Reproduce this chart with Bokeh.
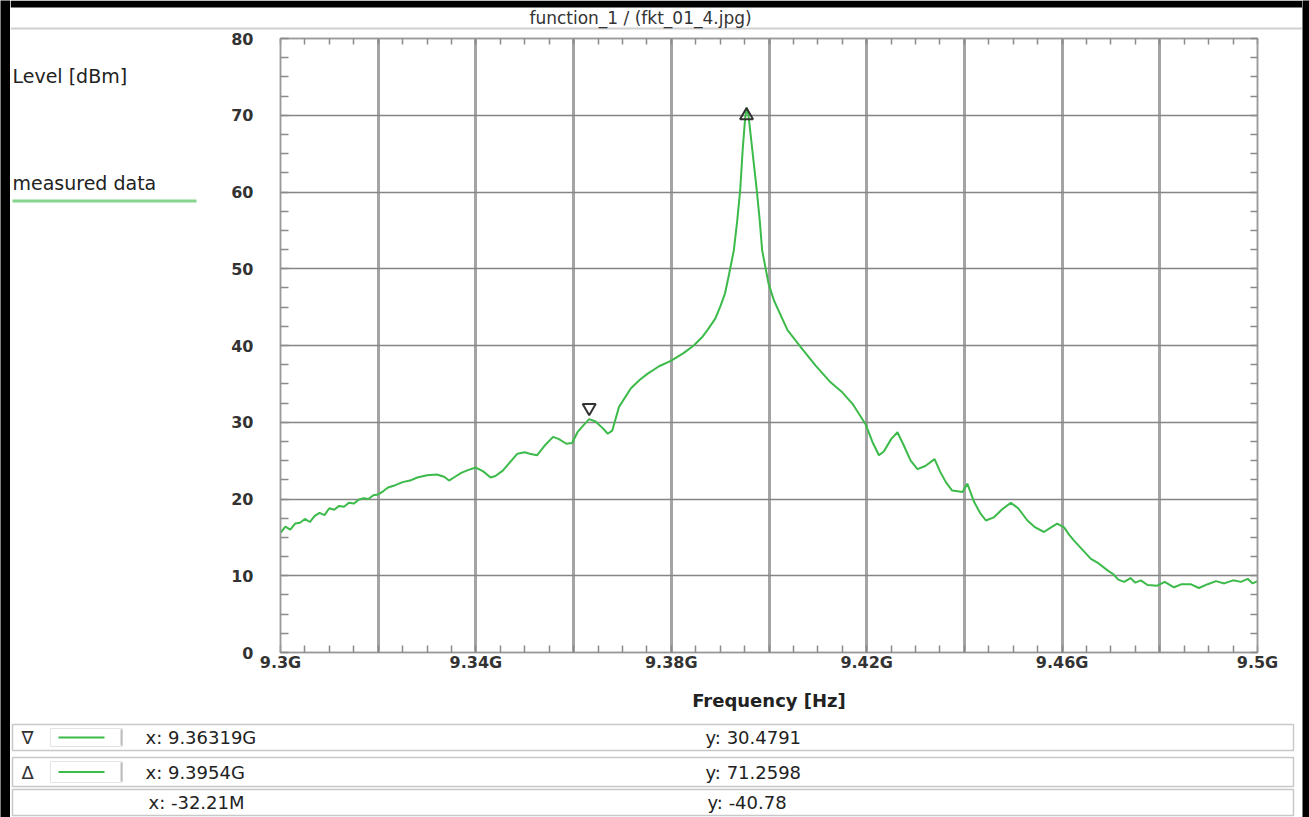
from bokeh.plotting import figure
from bokeh.models import Range1d, FixedTicker, LinearAxis, ColumnDataSource
from bokeh.layouts import row, column
from bokeh.core.properties import value
from bokeh.transform import dodge
from bokeh.embed import file_html
from bokeh.resources import INLINE

# ---------------- data ----------------
freq_ghz = [9.3000, 9.3010, 9.3020, 9.3030, 9.3040, 9.3050, 9.3060, 9.3070, 9.3080, 9.3090,
            9.3100, 9.3110, 9.3120, 9.3130, 9.3140, 9.3150, 9.3160, 9.3170, 9.3180, 9.3190,
            9.3200, 9.3210, 9.3220, 9.3235, 9.3250, 9.3265, 9.3280, 9.3300, 9.3320, 9.3335,
            9.3345, 9.3355, 9.3370, 9.3385, 9.3400, 9.3415, 9.3430, 9.3440, 9.3455, 9.3470,
            9.3485, 9.3500, 9.3510, 9.3525, 9.3540, 9.3558, 9.3570, 9.3585, 9.3597, 9.3608,
            9.3620, 9.3632, 9.3645, 9.3660, 9.3670, 9.3679, 9.3693, 9.3717, 9.3735, 9.3751,
            9.3775, 9.3799, 9.3825, 9.3846, 9.3862, 9.3874, 9.3890, 9.3901, 9.3910, 9.3917,
            9.3928, 9.3935, 9.3941, 9.3946, 9.3951, 9.3954, 9.3958, 9.3966, 9.3975, 9.3981,
            9.3986, 9.3999, 9.4010, 9.4025, 9.4038, 9.4065, 9.4095, 9.4126, 9.4150, 9.4171,
            9.4185, 9.4198, 9.4212, 9.4225, 9.4235, 9.4250, 9.4263, 9.4275, 9.4290, 9.4304,
            9.4320, 9.4339, 9.4350, 9.4362, 9.4375, 9.4396, 9.4406, 9.4420, 9.4432, 9.4444,
            9.4460, 9.4478, 9.4495, 9.4510, 9.4529, 9.4545, 9.4563, 9.4575, 9.4590, 9.4604,
            9.4615, 9.4624, 9.4640, 9.4659, 9.4675, 9.4693, 9.4705, 9.4715, 9.4727, 9.4740,
            9.4750, 9.4761, 9.4775, 9.4795, 9.4810, 9.4829, 9.4845, 9.4863, 9.4880, 9.4898,
            9.4915, 9.4932, 9.4950, 9.4966, 9.4980, 9.4990, 9.5000]
level_dbm = [15.6, 16.4, 16.0, 16.8, 16.9, 17.4, 17.0, 17.8, 18.2, 17.9,
             18.8, 18.6, 19.1, 19.0, 19.5, 19.4, 19.9, 20.1, 20.0, 20.5,
             20.6, 21.0, 21.5, 21.8, 22.2, 22.4, 22.8, 23.1, 23.2, 22.9,
             22.4, 22.8, 23.4, 23.8, 24.1, 23.6, 22.8, 23.0, 23.7, 24.8,
             25.9, 26.1, 25.9, 25.7, 26.9, 28.1, 27.8, 27.2, 27.3, 28.7,
             29.6, 30.4, 30.1, 29.2, 28.5, 28.9, 32.0, 34.4, 35.5, 36.3,
             37.3, 38.0, 39.0, 40.0, 41.0, 42.0, 43.5, 45.2, 46.8, 48.9,
             52.4, 56.3, 60.2, 65.4, 69.5, 71.0, 70.0, 65.4, 60.2, 56.3,
             52.4, 48.1, 45.9, 43.8, 42.0, 39.8, 37.4, 35.2, 33.9, 32.4,
             31.0, 29.7, 27.4, 25.7, 26.2, 27.8, 28.7, 27.1, 25.0, 23.9,
             24.3, 25.2, 23.6, 22.2, 21.1, 20.9, 22.0, 19.6, 18.2, 17.2,
             17.6, 18.7, 19.5, 18.8, 17.2, 16.3, 15.7, 16.2, 16.8, 16.3,
             15.3, 14.6, 13.5, 12.2, 11.6, 10.7, 10.2, 9.5, 9.2, 9.7,
             9.1, 9.4, 8.8, 8.7, 9.2, 8.5, 8.9, 8.9, 8.4, 8.9,
             9.3, 9.0, 9.4, 9.2, 9.6, 9.0, 9.3]

marker_x = [9.36319, 9.3954]
marker_y = [30.4791, 71.2598]
marker_kind = ["inverted_triangle", "triangle"]

x_tick_vals = [9.30, 9.34, 9.38, 9.42, 9.46, 9.50]
x_tick_labels = ["9.3G", "9.34G", "9.38G", "9.42G", "9.46G", "9.5G"]
x_grid_vals = [9.30, 9.32, 9.34, 9.36, 9.38, 9.40, 9.42, 9.44, 9.46, 9.48, 9.50]
x_minor_vals = [9.300, 9.305, 9.310, 9.315, 9.320, 9.325, 9.330, 9.335, 9.340, 9.345,
                9.350, 9.355, 9.360, 9.365, 9.370, 9.375, 9.380, 9.385, 9.390, 9.395,
                9.400, 9.405, 9.410, 9.415, 9.420, 9.425, 9.430, 9.435, 9.440, 9.445,
                9.450, 9.455, 9.460, 9.465, 9.470, 9.475, 9.480, 9.485, 9.490, 9.495, 9.500]
y_tick_vals = [0, 10, 20, 30, 40, 50, 60, 70, 80]
y_minor_vals = [0, 2.5, 5, 7.5, 10, 12.5, 15, 17.5, 20, 22.5, 25, 27.5, 30, 32.5, 35, 37.5,
                40, 42.5, 45, 47.5, 50, 52.5, 55, 57.5, 60, 62.5, 65, 67.5, 70, 72.5, 75, 77.5, 80]

title_text = "function_1 / (fkt_01_4.jpg)"
y_title = "Level [dBm]"
x_title = "Frequency [Hz]"
series_name = "measured data"
table_symbols = ["\u2207", "\u0394", ""]
table_x = ["x: 9.36319G", "x: 9.3954G", "x: -32.21M"]
table_y = ["y: 30.4791", "y: 71.2598", "y: -40.78"]

# ---------------- layout (canvas pixels) ----------------
W, H = 1309, 817
BL, BR, BT = 10, 7, 7            # black screenshot frame widths
TOP_H = 30                       # title strip height
LEFT_W = 200                     # left text panel width
TABLE_Y = 718                    # where the cursor table starts
FL, FR, FT, FB = 280, 1257, 38, 652   # plot frame
FONT = "DejaVu Sans"
GREEN = "#3cba4a"
INNER_W = W - BL - BR


def pixel_fig(w, h, x0, x1, y0, y1, bg="white"):
    f = figure(width=w, height=h, output_backend="svg", toolbar_location=None,
               x_range=Range1d(x0, x1), y_range=Range1d(y1, y0),
               x_axis_location=None, y_axis_location=None,
               min_border=0, background_fill_color=bg, border_fill_color=bg)
    f.grid.visible = False
    f.outline_line_color = None
    return f


def put_text(f, xs, ys, texts, size, align="left", color="#222222", weight="normal"):
    f.text(x=xs, y=ys, text=texts, text_font=value(FONT), text_font_size=value(size),
           text_align=value(align), text_baseline=value("middle"), text_color=color,
           text_font_style=value(weight))


# black strips of the screenshot frame
strip_l = pixel_fig(BL, H, 0, 1, 0, 1, bg="black")
strip_r = pixel_fig(BR, H, 0, 1, 0, 1, bg="black")

# title strip
tfig = pixel_fig(INNER_W, TOP_H, BL, W - BR, 0, TOP_H)
tfig.quad(left=[BL], right=[W - BR], top=[0], bottom=[BT], fill_color="black", line_color=None)
tfig.quad(left=[BL], right=[W - BR], top=[27], bottom=[29], fill_color="#d0d0d0", line_color=None)
put_text(tfig, [640], [17], [title_text], "17px", align="center", color="#333333")

# left text panel (its frame is aligned with the plot frame by the row layout)
lfig = pixel_fig(LEFT_W, TABLE_Y - TOP_H, BL, BL + LEFT_W, FT, FB)
put_text(lfig, [12], [75], [y_title], "19px")
put_text(lfig, [12], [182], [series_name], "19px")
lfig.quad(left=[12], right=[196], top=[199], bottom=[202], fill_color="#86d58f", line_color=None)

# main plot
main_w = W - BR - (BL + LEFT_W)
main_h = TABLE_Y - TOP_H
p = figure(width=main_w, height=main_h, output_backend="svg", toolbar_location=None,
           x_range=Range1d(9.3, 9.5), y_range=Range1d(0, 80),
           min_border_left=FL - (BL + LEFT_W), min_border_right=(W - BR) - FR,
           min_border_top=FT - TOP_H, min_border_bottom=TABLE_Y - FB,
           background_fill_color="white", border_fill_color="white")
p.outline_line_color = "#9a9a9a"
p.outline_line_width = 1.5

xa = p.xaxis[0]
xa.ticker = FixedTicker(ticks=x_tick_vals, minor_ticks=x_minor_vals)
xa.major_label_overrides = dict(zip(x_tick_vals, x_tick_labels))
xa.axis_label = x_title
xa.axis_label_text_font = FONT
xa.axis_label_text_font_size = "18px"
xa.axis_label_text_font_style = "bold"
xa.axis_label_text_color = "#222222"
xa.axis_label_standoff = 15
xa.major_label_text_font = FONT
xa.major_label_text_font_size = "16px"
xa.major_label_text_font_style = "bold"
xa.major_label_text_color = "#333333"
xa.major_label_standoff = -6
xa.major_tick_line_color = None
xa.minor_tick_in = 7
xa.minor_tick_out = 0
xa.minor_tick_line_color = "#8a8a8a"
xa.minor_tick_line_width = 1.5
xa.axis_line_color = "#9a9a9a"
xa.axis_line_width = 1.5

ya = p.yaxis[0]
ya.ticker = FixedTicker(ticks=y_tick_vals, minor_ticks=y_minor_vals)
ya.major_label_text_font = FONT
ya.major_label_text_font_size = "16px"
ya.major_label_text_font_style = "bold"
ya.major_label_text_color = "#333333"
ya.major_label_standoff = 21
ya.major_tick_line_color = None
ya.minor_tick_in = 8
ya.minor_tick_out = 0
ya.minor_tick_line_color = "#8a8a8a"
ya.minor_tick_line_width = 1.5
ya.axis_line_color = "#9a9a9a"
ya.axis_line_width = 1.5

xt = LinearAxis(ticker=FixedTicker(ticks=[], minor_ticks=x_minor_vals),
                major_tick_line_color=None, major_label_standoff=0,
                minor_tick_in=6, minor_tick_out=0, minor_tick_line_color="#8a8a8a",
                minor_tick_line_width=1.5, axis_line_color="#9a9a9a", axis_line_width=1.5)
p.add_layout(xt, "above")
yr = LinearAxis(ticker=FixedTicker(ticks=[], minor_ticks=y_minor_vals),
                major_tick_line_color=None, major_label_standoff=0,
                minor_tick_in=7, minor_tick_out=0, minor_tick_line_color="#8a8a8a",
                minor_tick_line_width=1.5, axis_line_color="#9a9a9a", axis_line_width=1.5)
p.add_layout(yr, "right")

p.xgrid.ticker = FixedTicker(ticks=x_grid_vals)
p.xgrid.grid_line_color = "#a4a4a4"
p.xgrid.grid_line_width = 3
p.ygrid.ticker = FixedTicker(ticks=y_tick_vals)
p.ygrid.grid_line_color = "#858585"
p.ygrid.grid_line_width = 1.5

src = ColumnDataSource(dict(f=freq_ghz, lvl=level_dbm))
p.line("f", "lvl", source=src, line_color=GREEN, line_width=2)

msrc_dn = ColumnDataSource(dict(x=marker_x[:1], y=marker_y[:1]))
msrc_up = ColumnDataSource(dict(x=marker_x[1:], y=marker_y[1:]))
p.scatter(x="x", y=dodge("y", 1.4, range=p.y_range), source=msrc_dn,
          marker=marker_kind[0], size=13, fill_color=None, line_color="#333333", line_width=2)
p.scatter(x="x", y=dodge("y", -1.3, range=p.y_range), source=msrc_up,
          marker=marker_kind[1], size=13, fill_color=None, line_color="#333333", line_width=2)

# cursor table
bfig = pixel_fig(INNER_W, H - TABLE_Y, BL, W - BR, TABLE_Y, H)
row_top = [724, 757, 789]
row_bot = [750, 786, 815]
row_mid = [(t + b) / 2 for t, b in zip(row_top, row_bot)]
bfig.quad(left=[12] * 3, right=[1293] * 3, top=row_top, bottom=row_bot,
          fill_color="white", line_color="#c8c8c8", line_width=1.5)
sym_rows = [i for i, s in enumerate(table_symbols) if s]
bfig.quad(left=[50] * len(sym_rows), right=[122] * len(sym_rows),
          top=[row_top[i] + 4 for i in sym_rows], bottom=[row_bot[i] - 4 for i in sym_rows],
          fill_color="white", line_color="#e4e4e4", line_width=1)
bfig.quad(left=[120] * len(sym_rows), right=[122] * len(sym_rows),
          top=[row_top[i] + 5 for i in sym_rows], bottom=[row_bot[i] - 5 for i in sym_rows],
          fill_color="#bdbdbd", line_color=None)
bfig.quad(left=[58] * len(sym_rows), right=[104] * len(sym_rows),
          top=[row_mid[i] - 1 for i in sym_rows], bottom=[row_mid[i] + 1 for i in sym_rows],
          fill_color=GREEN, line_color=None)
put_text(bfig, [21] * len(sym_rows), [row_mid[i] for i in sym_rows],
         [table_symbols[i] for i in sym_rows], "18px", color="#333333")
put_text(bfig, [145, 145, 148], row_mid, table_x, "18px")
put_text(bfig, [705, 705, 707], row_mid, table_y, "18px")

layout = row(strip_l,
             column(tfig, row(lfig, p, spacing=0), bfig, spacing=0),
             strip_r, spacing=0)

open("out.html", "w").write(file_html(layout, INLINE))
